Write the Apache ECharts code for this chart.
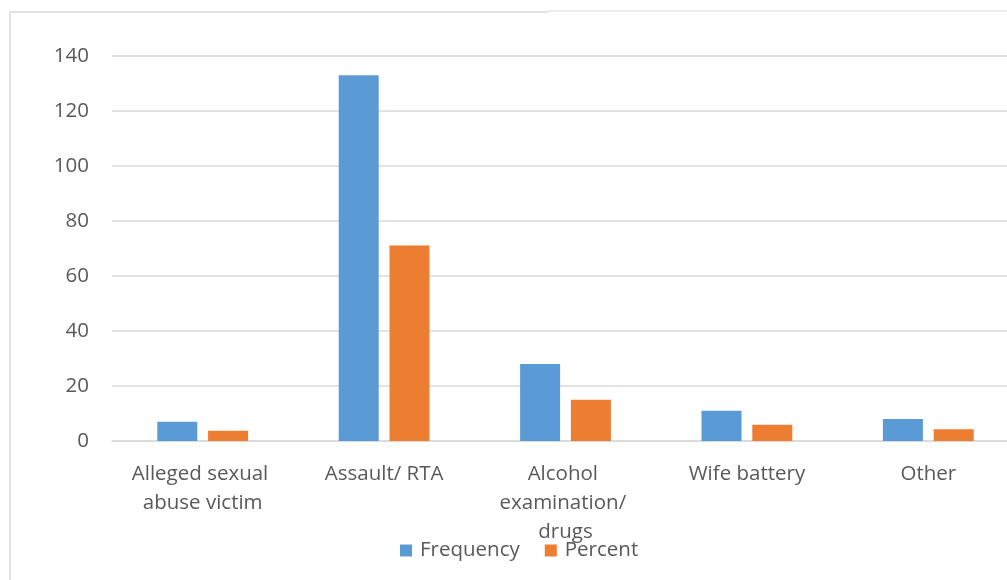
<!DOCTYPE html>
<html>
<head>
<meta charset="utf-8">
<script src="https://cdn.jsdelivr.net/npm/echarts@6/dist/echarts.min.js"></script>
<style>
  html, body { margin: 0; padding: 0; background: #fff; overflow: hidden; }
  /* the plot runs slightly past the right edge of the window */
  #chart { width: 1020px; height: 580px; }
</style>
</head>
<body>
<div id="chart"></div>
<script>
// Examination reasons: counts and share of cases
const categories = ['Alleged sexual abuse victim', 'Assault/ RTA', 'Alcohol examination/ drugs', 'Wife battery', 'Other'];
const frequency = [7, 133, 28, 11, 8];
const percent = [3.7, 71.1, 15.0, 5.9, 4.3];
const yTicks = { min: 0, max: 140, interval: 20 };

const textColor = '#595959';
const lineColor = '#d9d9d9';
const fontFamily = '"Open Sans", Lato, sans-serif';
const fontSize = 20.5;

const chart = echarts.init(document.getElementById('chart'), null, { renderer: 'canvas' });
chart.setOption({
  backgroundColor: '#fff',
  animation: false,
  textStyle: { fontFamily: fontFamily },
  graphic: [
    { type: 'line', shape: { x1: 10, y1: 12, x2: 548, y2: 12 }, style: { stroke: lineColor, lineWidth: 1.5 } },
    { type: 'line', shape: { x1: 548, y1: 11, x2: 1020, y2: 11 }, style: { stroke: '#e4e4e4', lineWidth: 1.5 } },
    { type: 'line', shape: { x1: 10, y1: 12, x2: 10, y2: 580 }, style: { stroke: lineColor, lineWidth: 1.5 } }
  ],
  grid: { left: 112, right: 1, top: 56, bottom: 139, containLabel: false },
  legend: {
    bottom: 14,
    left: 395,
    itemWidth: 12,
    itemHeight: 12,
    itemGap: 25,
    icon: 'rect',
    textStyle: { color: textColor, fontSize: fontSize, fontFamily: fontFamily, padding: [0, 0, 0, 3] },
    data: ['Frequency', 'Percent']
  },
  xAxis: {
    type: 'category',
    data: categories,
    axisLine: { lineStyle: { color: lineColor, width: 1.5 } },
    axisTick: { show: false },
    axisLabel: {
      interval: 0,
      color: textColor,
      fontSize: fontSize,
      fontFamily: fontFamily,
      margin: 19,
      lineHeight: 29,
      width: 155,
      overflow: 'break'
    }
  },
  yAxis: {
    type: 'value',
    min: yTicks.min,
    max: yTicks.max,
    interval: yTicks.interval,
    axisLine: { show: false },
    axisTick: { show: false },
    splitLine: { lineStyle: { color: lineColor, width: 1.5 } },
    axisLabel: { color: textColor, fontSize: fontSize, fontFamily: fontFamily, margin: 23 }
  },
  series: [
    {
      name: 'Frequency',
      type: 'bar',
      data: frequency,
      barWidth: 40,
      barGap: '27%',
      itemStyle: { color: '#5b9bd5' }
    },
    {
      name: 'Percent',
      type: 'bar',
      data: percent,
      barWidth: 40,
      itemStyle: { color: '#ed7d31' }
    }
  ]
});
</script>
</body>
</html>
